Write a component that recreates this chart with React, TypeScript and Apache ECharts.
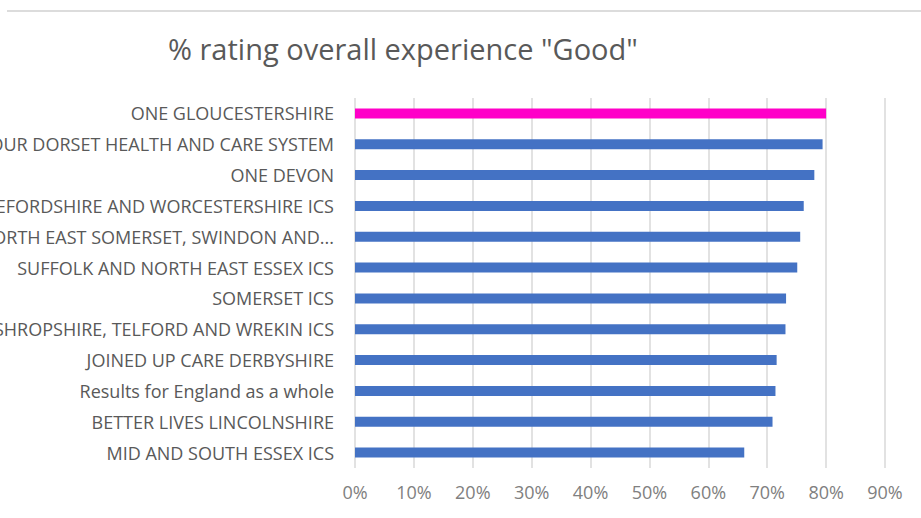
import React, { useEffect, useRef } from "react";
import * as echarts from "echarts";

const titleText = '% rating overall experience "Good"';

const categories: string[] = [
  "ONE GLOUCESTERSHIRE",
  "OUR DORSET HEALTH AND CARE SYSTEM",
  "ONE DEVON",
  "HEREFORDSHIRE AND WORCESTERSHIRE ICS",
  "BATH AND NORTH EAST SOMERSET, SWINDON AND...",
  "SUFFOLK AND NORTH EAST ESSEX ICS",
  "SOMERSET ICS",
  "SHROPSHIRE, TELFORD AND WREKIN ICS",
  "JOINED UP CARE DERBYSHIRE",
  "Results for England as a whole",
  "BETTER LIVES LINCOLNSHIRE",
  "MID AND SOUTH ESSEX ICS",
];

const values: number[] = [0.8, 0.794, 0.78, 0.762, 0.756, 0.751, 0.732, 0.731, 0.716, 0.714, 0.709, 0.661];

const highlighted = "ONE GLOUCESTERSHIRE";

const axisMin = 0;
const axisMax = 0.9;
const axisInterval = 0.1;

export default function App() {
  const ref = useRef<HTMLDivElement>(null);

  useEffect(() => {
    if (!ref.current) return;
    const chart = echarts.init(ref.current, null, { renderer: "svg" });
    const font = "'Open Sans', Lato, sans-serif";
    chart.setOption({
      animation: false,
      backgroundColor: "#ffffff",
      textStyle: { fontFamily: font },
      title: {
        text: titleText,
        left: 163,
        top: 29,
        textStyle: {
          fontFamily: font,
          fontSize: 29,
          fontWeight: "normal",
          color: "#595959",
        },
      },
      graphic: [
        {
          type: "line",
          shape: { x1: 7, y1: 11, x2: 921, y2: 11 },
          style: { stroke: "#dcdcdc", lineWidth: 2 },
        },
      ],
      grid: {
        left: 355,
        right: 36,
        top: 98,
        bottom: 50,
        containLabel: false,
        outerBoundsMode: "none",
      },
      xAxis: {
        type: "value",
        min: axisMin,
        max: axisMax,
        interval: axisInterval,
        axisLine: { show: false },
        axisTick: { show: false },
        splitLine: { show: true, lineStyle: { color: "#d9d9d9", width: 1.5 } },
        axisLabel: {
          color: "#808080",
          fontSize: 18,
          margin: 15,
          fontFamily: font,
          formatter: (v: number) => `${Math.round(v * 100)}%`,
        },
      },
      yAxis: {
        type: "category",
        data: categories,
        inverse: true,
        axisLine: { show: false },
        axisTick: { show: false },
        splitLine: { show: false },
        axisLabel: {
          color: "#595959",
          fontSize: 18,
          margin: 21,
          fontFamily: font,
          hideOverlap: false,
        },
      },
      series: [
        {
          type: "bar",
          barWidth: 10,
          data: values.map((v, i) => ({
            value: v,
            itemStyle: { color: categories[i] === highlighted ? "#FF00C8" : "#4472C4" },
          })),
        },
      ],
    });
    return () => chart.dispose();
  }, []);

  return (
    <div
      ref={ref}
      style={{ position: "absolute", left: 0, top: 0, width: 921, height: 518, background: "#fff" }}
    />
  );
}
